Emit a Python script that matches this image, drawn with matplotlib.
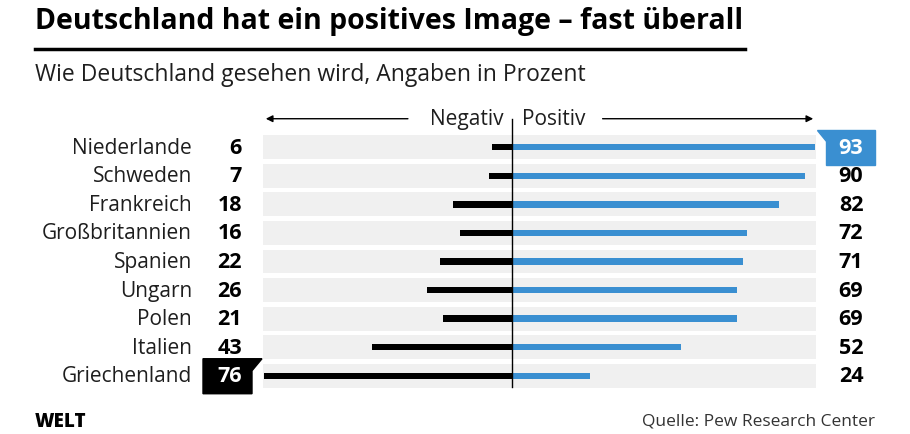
import matplotlib
matplotlib.use("Agg")
import matplotlib.pyplot as plt
from matplotlib.patches import Polygon
from matplotlib.transforms import blended_transform_factory, IdentityTransform

# === DATA ===
countries = ["Niederlande", "Schweden", "Frankreich", "Großbritannien", "Spanien",
             "Ungarn", "Polen", "Italien", "Griechenland"]
negative = [6, 7, 18, 16, 22, 26, 21, 43, 76]
positive = [93, 90, 82, 72, 71, 69, 69, 52, 24]

title = "Deutschland hat ein positives Image – fast überall"
subtitle = "Wie Deutschland gesehen wird, Angaben in Prozent"
source = "Quelle: Pew Research Center"

BLUE = "#3a8fd1"
GRAY = "#f0f0f0"
TXT = "#1e1e1e"
W, H = 910, 435

plt.rcParams["font.family"] = ["Open Sans", "DejaVu Sans"]

fig = plt.figure(figsize=(W / 100, H / 100), dpi=100)


def fx(x):
    return x / W


def fy(y):
    return 1 - y / H


# chart area in pixels: x 263..816, y 134..391
ax = fig.add_axes([fx(263), fy(391), fx(816) - fx(263), fy(134) - fy(391)])
ax.set_xlim(-76.3, 93.3)
ax.set_ylim(len(countries) - 0.5, -0.5)
ax.axis("off")

rows = range(len(countries))
ax.barh(rows, [169.6] * len(countries), left=-76.3, height=0.84, color=GRAY, zorder=0)
ax.barh(rows, [-v for v in negative], height=0.22, color="black", zorder=2)
ax.barh(rows, positive, height=0.22, color=BLUE, zorder=2)
ax.plot([0, 0], [-1.0, len(countries) - 0.6], color="black", lw=1, zorder=3, clip_on=False)

# highlight boxes for the extreme values
def box_pts(row, x0, x1, flag_left):
    y_c = ax.transData.transform((0, row))[1]
    top = y_c + 17
    bot = y_c - 18
    if flag_left:
        return [(x0 - 9, top), (x1, top), (x1, bot), (x0, bot), (x0, top - 11)]
    return [(x0, top), (x1 + 10, top), (x1, top - 12), (x1, bot), (x0, bot)]

for pts, col in [(box_pts(0, 826, 875, True), BLUE),
                 (box_pts(len(countries) - 1, 203, 252, False), "black")]:
    ax.add_patch(Polygon(pts, closed=True, color=col, transform=IdentityTransform(),
                         clip_on=False, zorder=4))

tr = blended_transform_factory(fig.transFigure, ax.transData)
for i, (c, n, p) in enumerate(zip(countries, negative, positive)):
    ax.text(fx(192), i, c, transform=tr, ha="right", va="center", fontsize=15,
            color=TXT)
    ncol = "white" if i == len(countries) - 1 else "black"
    pcol = "white" if i == 0 else "black"
    ax.text(fx(242), i, str(n), transform=tr, ha="right", va="center", fontsize=15.5,
            fontweight="bold", color=ncol, zorder=5)
    ax.text(fx(851), i, str(p), transform=tr, ha="center", va="center", fontsize=15.5,
            fontweight="bold", color=pcol, zorder=5)

# header with arrows
ax.annotate("", xy=(-76.3, -1.0), xytext=(-31, -1.0),
            arrowprops=dict(arrowstyle="-|>", color="black", lw=1, mutation_scale=10),
            annotation_clip=False)
ax.annotate("", xy=(93.3, -1.0), xytext=(27, -1.0),
            arrowprops=dict(arrowstyle="-|>", color="black", lw=1, mutation_scale=10),
            annotation_clip=False)
ax.text(-2.5, -1.0, "Negativ", ha="right", va="center", fontsize=15, color=TXT)
ax.text(3, -1.0, "Positiv", ha="left", va="center", fontsize=15, color=TXT)

# titles
fig.text(fx(35), fy(22), title, ha="left", va="center", fontsize=20.5, fontweight="bold")
fig.add_artist(plt.Line2D([fx(35), fx(745)], [fy(50), fy(50)], color="black", lw=2.5))
fig.text(fx(35), fy(75), subtitle, ha="left", va="center", fontsize=16.5, color=TXT)
fig.text(fx(35), fy(422), "WELT", ha="left", va="center", fontsize=13.5, fontweight="heavy")
fig.text(fx(875), fy(422), source, ha="right", va="center", fontsize=12.5, color="#333333")

fig.savefig("out.png", dpi=100)
